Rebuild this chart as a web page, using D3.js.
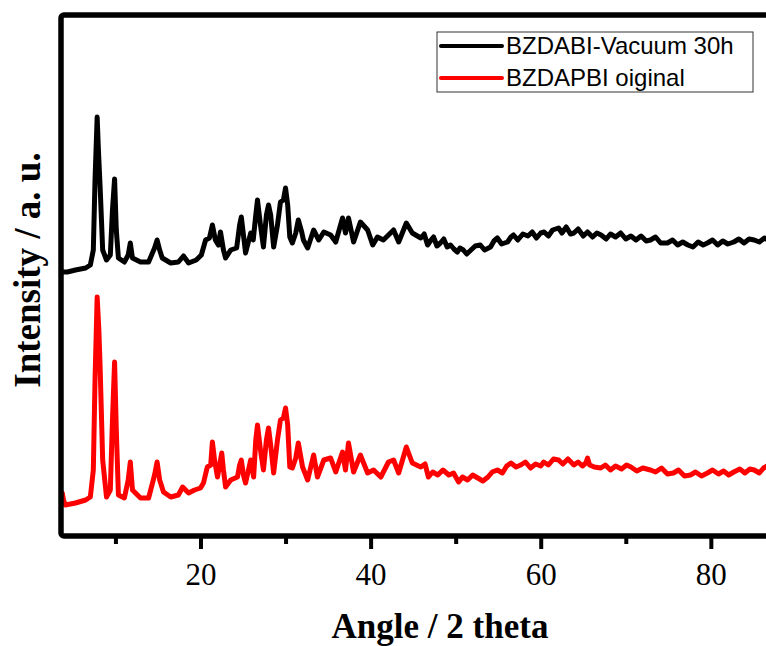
<!DOCTYPE html>
<html>
<head>
<meta charset="utf-8">
<script src="https://cdn.jsdelivr.net/npm/d3@7"></script>
<style>
  body { margin: 0; background: #fff; }
  svg { display: block; }
</style>
</head>
<body>
<svg id="chart" width="766" height="646"></svg>
<script>
"use strict";

// 2 theta (degrees) / intensity (a.u., black trace is stacked above red)
var vacuumAngle = [3.9, 4.35, 5.3, 6.5, 7.05, 7.4, 7.6, 7.85, 8.0, 8.2, 8.5, 8.95, 9.4, 9.65, 9.9, 10.1, 10.35, 11.05, 11.5, 11.75, 12.0, 12.95, 13.9, 14.6, 14.9, 15.2, 15.5, 16.5, 17.4, 18.0, 18.6, 19.5, 20.1, 20.6, 21.05, 21.4, 21.75, 22.1, 22.35, 22.7, 22.95, 23.55, 24.25, 24.6, 24.8, 25.05, 25.3, 25.9, 26.2, 26.5, 26.7, 27.05, 27.4, 27.75, 28.0, 28.25, 28.6, 29.05, 29.4, 29.75, 30.0, 30.25, 30.5, 30.8, 31.2, 31.5, 31.9, 32.1, 32.6, 33.3, 33.9, 34.5, 35.3, 35.9, 36.7, 37.05, 37.4, 38.0, 38.8, 39.65, 40.25, 40.8, 41.5, 42.7, 43.3, 44.2, 44.9,
    45.9, 46.3, 46.7, 47.1, 47.4, 47.8, 48.2, 48.6, 49.0, 49.4, 49.8, 50.2, 50.5, 50.9, 51.3, 51.8, 52.3, 52.9, 53.4, 54.1, 54.5, 54.9, 55.4, 56.1, 56.5, 56.8, 57.3, 57.9, 58.5, 59.0, 59.5, 60.0, 60.4, 60.9, 61.4, 62.1, 62.5, 63.0, 63.5, 63.9, 64.4, 65.0, 65.5, 66.1, 66.6, 67.1, 67.7, 68.2, 68.8, 69.4, 70.0, 70.6, 71.2, 71.8, 72.4, 72.9, 73.5, 74.1, 74.9, 75.5, 76.1, 76.7, 77.3, 77.9, 78.5, 79.1, 79.6, 80.2, 80.8, 81.4, 82.0, 82.7, 83.3, 83.9, 84.5, 85.1, 85.7, 86.3, 86.9, 87.5, 88.2, 89.0, 90];
var vacuumValue = [264, 264, 266, 268, 271, 286, 356, 419, 386, 349, 286, 276, 281, 326, 357, 306, 278, 274, 281, 293, 278, 274, 274, 288, 296, 286, 278, 273, 274, 280, 273, 276, 281, 296, 298, 311, 296, 291, 304, 286, 278, 286, 288, 311, 319, 301, 283, 303, 296, 321, 336, 311, 289, 321, 331, 321, 289, 311, 334, 336, 348, 331, 299, 293, 303, 316, 304, 296, 288, 306, 296, 304, 301, 294, 318, 303, 318, 294, 314, 306, 291, 299, 296, 306, 294, 313, 303,
    298, 302, 291, 296, 299, 290, 293, 297, 289, 291, 287, 284, 288, 286, 282, 286, 290, 291, 286, 289, 295, 298, 292, 294, 299, 301, 296, 302, 300, 304, 298, 303, 304, 300, 306, 308, 303, 309, 302, 303, 307, 300, 304, 299, 303, 301, 297, 302, 299, 303, 297, 300, 296, 300, 295, 296, 299, 293, 293, 296, 291, 294, 291, 289, 294, 291, 293, 296, 291, 295, 292, 294, 297, 293, 297, 296, 294, 298, 295, 297, 295, 297, 296];

var originalAngle = [3.75, 3.9, 4.1, 5.3, 6.5, 7.05, 7.4, 7.6, 7.85, 8.05, 8.2, 8.5, 8.95, 9.4, 9.65, 9.9, 10.1, 10.35, 11.05, 11.5, 11.75, 12.0, 12.95, 13.9, 14.6, 14.9, 15.2, 15.65, 16.5, 17.4, 17.9, 18.6, 19.3, 20.0, 20.35, 20.8, 21.2, 21.4, 21.65, 22.0, 22.5, 22.7, 22.95, 23.55, 24.35, 24.6, 24.8, 25.05, 25.3, 25.9, 26.25, 26.5, 26.7, 27.05, 27.4, 27.75, 28.0, 28.25, 28.6, 29.05, 29.4, 29.75, 30.0, 30.25, 30.5, 30.8, 31.2, 31.5, 32.0, 32.6, 33.3, 33.75, 34.5, 35.3, 35.9, 36.7, 37.05, 37.4, 38.0, 38.8, 39.65, 40.35, 41.2, 42.1, 42.7, 43.3, 44.2, 44.9,
    45.9, 46.4, 46.8, 47.3, 47.9, 48.5, 49.2, 49.75, 50.35, 50.8, 51.4, 52.0, 52.6, 53.2, 53.8, 54.3, 54.9, 55.5, 56.0, 56.5, 57.1, 57.65, 58.2, 58.8, 59.4, 60.0, 60.35, 60.9, 61.5, 62.1, 62.6, 63.2, 63.9, 64.4, 64.9, 65.3, 65.5, 65.75, 66.3, 67.05, 67.6, 68.2, 68.8, 69.5, 70.1, 70.6, 71.3, 72.0, 72.9, 73.5, 74.2, 74.9, 75.6, 76.2, 76.9, 77.6, 78.2, 78.9, 79.6, 80.2, 80.9, 81.5, 82.1, 82.7, 83.4, 84.0, 84.6, 85.1, 85.7, 86.2, 86.8, 87.4, 88.1, 88.8, 89.5, 90];
var originalValue = [43, 36, 31, 33, 36, 39, 66, 156, 239, 206, 169, 76, 39, 46, 116, 174, 106, 41, 38, 56, 74, 46, 38, 38, 61, 74, 56, 44, 39, 41, 49, 43, 46, 48, 53, 69, 71, 94, 76, 59, 83, 66, 49, 56, 59, 71, 76, 61, 53, 76, 59, 96, 111, 86, 66, 96, 108, 91, 63, 96, 116, 118, 128, 111, 69, 68, 78, 93, 69, 56, 81, 59, 76, 78, 64, 84, 66, 93, 64, 81, 63, 66, 59, 74, 76, 63, 89, 73,
    69, 72, 59, 64, 61, 66, 61, 63, 54, 59, 56, 61, 58, 55, 59, 64, 66, 63, 70, 73, 69, 71, 74, 68, 72, 70, 74, 71, 77, 76, 72, 77, 71, 74, 70, 73, 78, 71, 69, 68, 71, 66, 70, 67, 71, 69, 65, 68, 66, 64, 68, 62, 63, 66, 60, 61, 64, 60, 63, 66, 62, 65, 61, 64, 67, 63, 67, 66, 63, 68, 71, 66, 69, 66, 68, 67];

var seriesNames = ["BZDABI-Vacuum 30h", "BZDAPBI oiginal"];
var seriesColors = ["#000000", "#ff0000"];
var xTickMajor = [20, 40, 60, 80];
var xTickMinor = [10, 30, 50, 70, 90];

var margin = { top: 15, left: 61 },
    plotWidth = 740,
    plotHeight = 521;

var svg = d3.select("#chart");
var g = svg.append("g")
    .attr("transform", "translate(" + margin.left + "," + margin.top + ")");

var xScale = d3.scaleLinear().domain([3.6, 90.6]).range([0, plotWidth]);
var yScale = d3.scaleLinear().domain([0, 521]).range([plotHeight, 0]);

g.append("defs").append("clipPath").attr("id", "clip")
    .append("rect").attr("width", plotWidth).attr("height", plotHeight);

var line = d3.line()
    .x(function (d) { return xScale(d[0]); })
    .y(function (d) { return yScale(d[1]); });

var series = [
    d3.zip(vacuumAngle, vacuumValue),
    d3.zip(originalAngle, originalValue)
];

g.append("g").attr("clip-path", "url(#clip)")
    .selectAll("path")
    .data(series)
    .enter()
    .append("path")
    .attr("d", line)
    .attr("fill", "none")
    .attr("stroke", function (d, i) { return seriesColors[i]; })
    .attr("stroke-width", 5)
    .attr("stroke-linejoin", "round")
    .attr("stroke-linecap", "round");

// x axis ticks (outward, under the frame)
var majorAxis = d3.axisBottom(xScale).tickValues(xTickMajor)
    .tickSize(13).tickPadding(14).tickFormat(d3.format("d"));
var minorAxis = d3.axisBottom(xScale).tickValues(xTickMinor)
    .tickSize(8).tickFormat("");

var axMinor = g.append("g").attr("transform", "translate(0," + plotHeight + ")").call(minorAxis);
var axMajor = g.append("g").attr("transform", "translate(0," + plotHeight + ")").call(majorAxis);
[axMinor, axMajor].forEach(function (ax) {
    ax.select(".domain").remove();
    ax.selectAll("line").attr("stroke", "#000").attr("stroke-width", 4);
});
axMajor.selectAll("text")
    .attr("fill", "#000")
    .style("font-family", "'Liberation Serif', 'Times New Roman', serif")
    .style("font-size", "31px");

// frame
g.append("rect")
    .attr("width", plotWidth)
    .attr("height", plotHeight)
    .attr("fill", "none")
    .attr("stroke", "#000")
    .attr("stroke-width", 5.5)
    .attr("rx", 3);

// axis titles
svg.append("text")
    .attr("x", 440)
    .attr("y", 638)
    .attr("text-anchor", "middle")
    .style("font-family", "'Liberation Serif', 'Times New Roman', serif")
    .style("font-weight", "bold")
    .style("font-size", "35px")
    .text("Angle / 2 theta");

svg.append("text")
    .attr("transform", "translate(40,270) rotate(-90)")
    .attr("text-anchor", "middle")
    .style("font-family", "'Liberation Serif', 'Times New Roman', serif")
    .style("font-weight", "bold")
    .style("font-size", "37px")
    .text("Intensity / a. u.");

// legend
var legend = svg.append("g").attr("transform", "translate(437,32)");
legend.append("rect")
    .attr("width", 316).attr("height", 60)
    .attr("fill", "#fff").attr("stroke", "#333").attr("stroke-width", 1);
var item = legend.selectAll("g.item")
    .data(seriesNames)
    .enter()
    .append("g")
    .attr("class", "item")
    .attr("transform", function (d, i) { return "translate(0," + (14 + i * 32) + ")"; });
item.append("line")
    .attr("x1", 4).attr("x2", 65)
    .attr("stroke", function (d, i) { return seriesColors[i]; })
    .attr("stroke-width", 4)
    .attr("stroke-linecap", "round");
item.append("text")
    .attr("x", 69)
    .attr("y", 8)
    .style("font-family", "'Liberation Sans', Arial, sans-serif")
    .style("font-size", "24px")
    .text(function (d) { return d; });
</script>
</body>
</html>
